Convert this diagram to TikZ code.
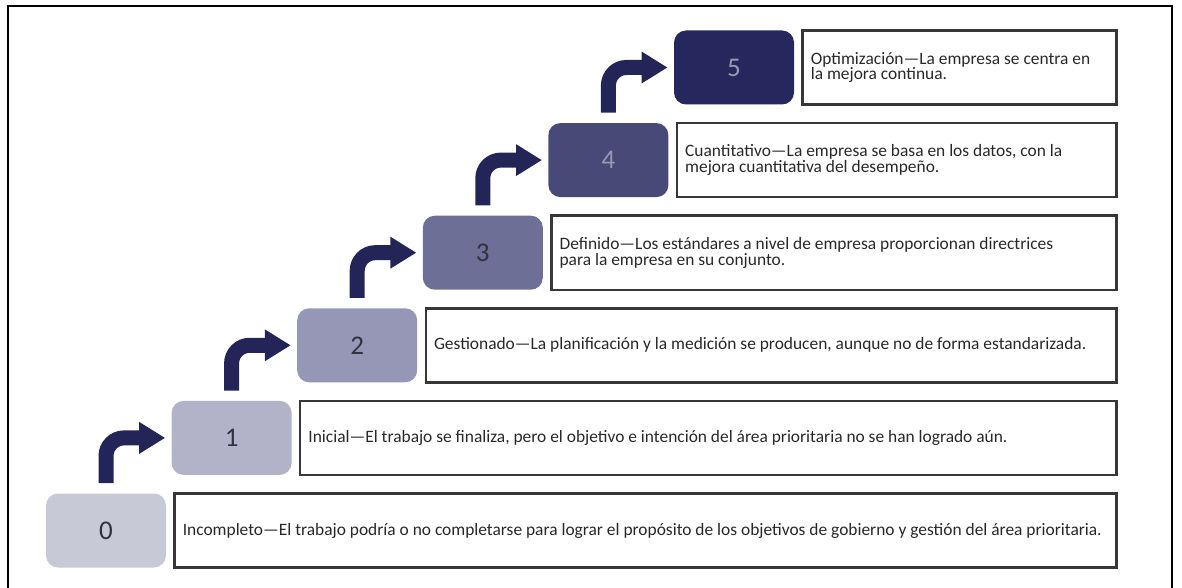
\documentclass[tikz,border=0pt]{standalone}
\usepackage{fontspec}
\setmainfont{Carlito}
\usetikzlibrary{positioning}
\usetikzlibrary{arrows.meta}
\definecolor{navy}{RGB}{35,36,88}
\definecolor{lvlA}{RGB}{200,201,214}
\definecolor{lvlB}{RGB}{178,179,200}
\definecolor{lvlC}{RGB}{150,151,182}
\definecolor{lvlD}{RGB}{110,111,150}
\definecolor{lvlE}{RGB}{72,73,118}
\definecolor{lvlF}{RGB}{38,39,92}
\definecolor{numdark}{RGB}{50,50,62}
\definecolor{numlight}{RGB}{150,152,182}
\definecolor{boxgray}{RGB}{55,55,55}
\definecolor{textgray}{RGB}{40,40,40}

\begin{document}
\begin{tikzpicture}[x=0.5pt, y=-0.5pt,
    lvlbox/.style={rounded corners=6pt, minimum width=60pt, minimum height=37pt, inner sep=0pt, font=\fontsize{13.5}{14}\selectfont},
    descbox/.style={draw=boxgray, line width=1.2pt, minimum height=37pt, inner sep=0pt},
    desctext/.style={anchor=west, align=left, inner sep=0pt, text=textgray, font=\fontsize{8.7}{7.8}\selectfont},
    steparrow/.style={draw=navy, line width=7.5pt, rounded corners=9pt, -{Triangle[length=13pt, width=15pt]}}]
    \useasboundingbox (0,0) rectangle (1182,588);
    % outer frame
    \draw[line width=1pt] (8,592) -- (8,6) -- (1172,6) -- (1172,592);
    % levels
    \foreach \i/\fillc/\numc/\txt in {
        0/lvlA/numdark/{Incompleto—El trabajo podría o no completarse para lograr el propósito de los objetivos de gobierno y gestión del área prioritaria.},
        1/lvlB/numdark/{Inicial—El trabajo se finaliza, pero el objetivo e intención del área prioritaria no se han logrado aún.},
        2/lvlC/numdark/{Gestionado—La planificación y la medición se producen, aunque no de forma estandarizada.},
        3/lvlD/numdark/{Definido—Los estándares a nivel de empresa proporcionan directrices\\para la empresa en su conjunto.},
        4/lvlE/numlight/{Cuantitativo—La empresa se basa en los datos, con la\\mejora cuantitativa del desempeño.},
        5/lvlF/numlight/{Optimización—La empresa se centra en\\la mejora continua.}} {
        \node[lvlbox, fill=\fillc, text=\numc] (lvl\i) at ({106+125.6*\i}, {530.5-92.6*\i}) {\i};
        \node[descbox, minimum width={(942-125.6*\i)*0.5pt}, right=3.5pt of lvl\i] (desc\i) {};
        \node[desctext] (txt\i) at ([xshift=4.5pt]desc\i.west) {\txt};
    }
    % arrows between levels
    \foreach \i in {0,...,4} {
        \pgfmathtruncatemacro{\j}{\i+1}
        \draw[steparrow] ([yshift=5pt]lvl\i.north) |- ([xshift=-3pt]lvl\j.west);
    }
\end{tikzpicture}
\end{document}
